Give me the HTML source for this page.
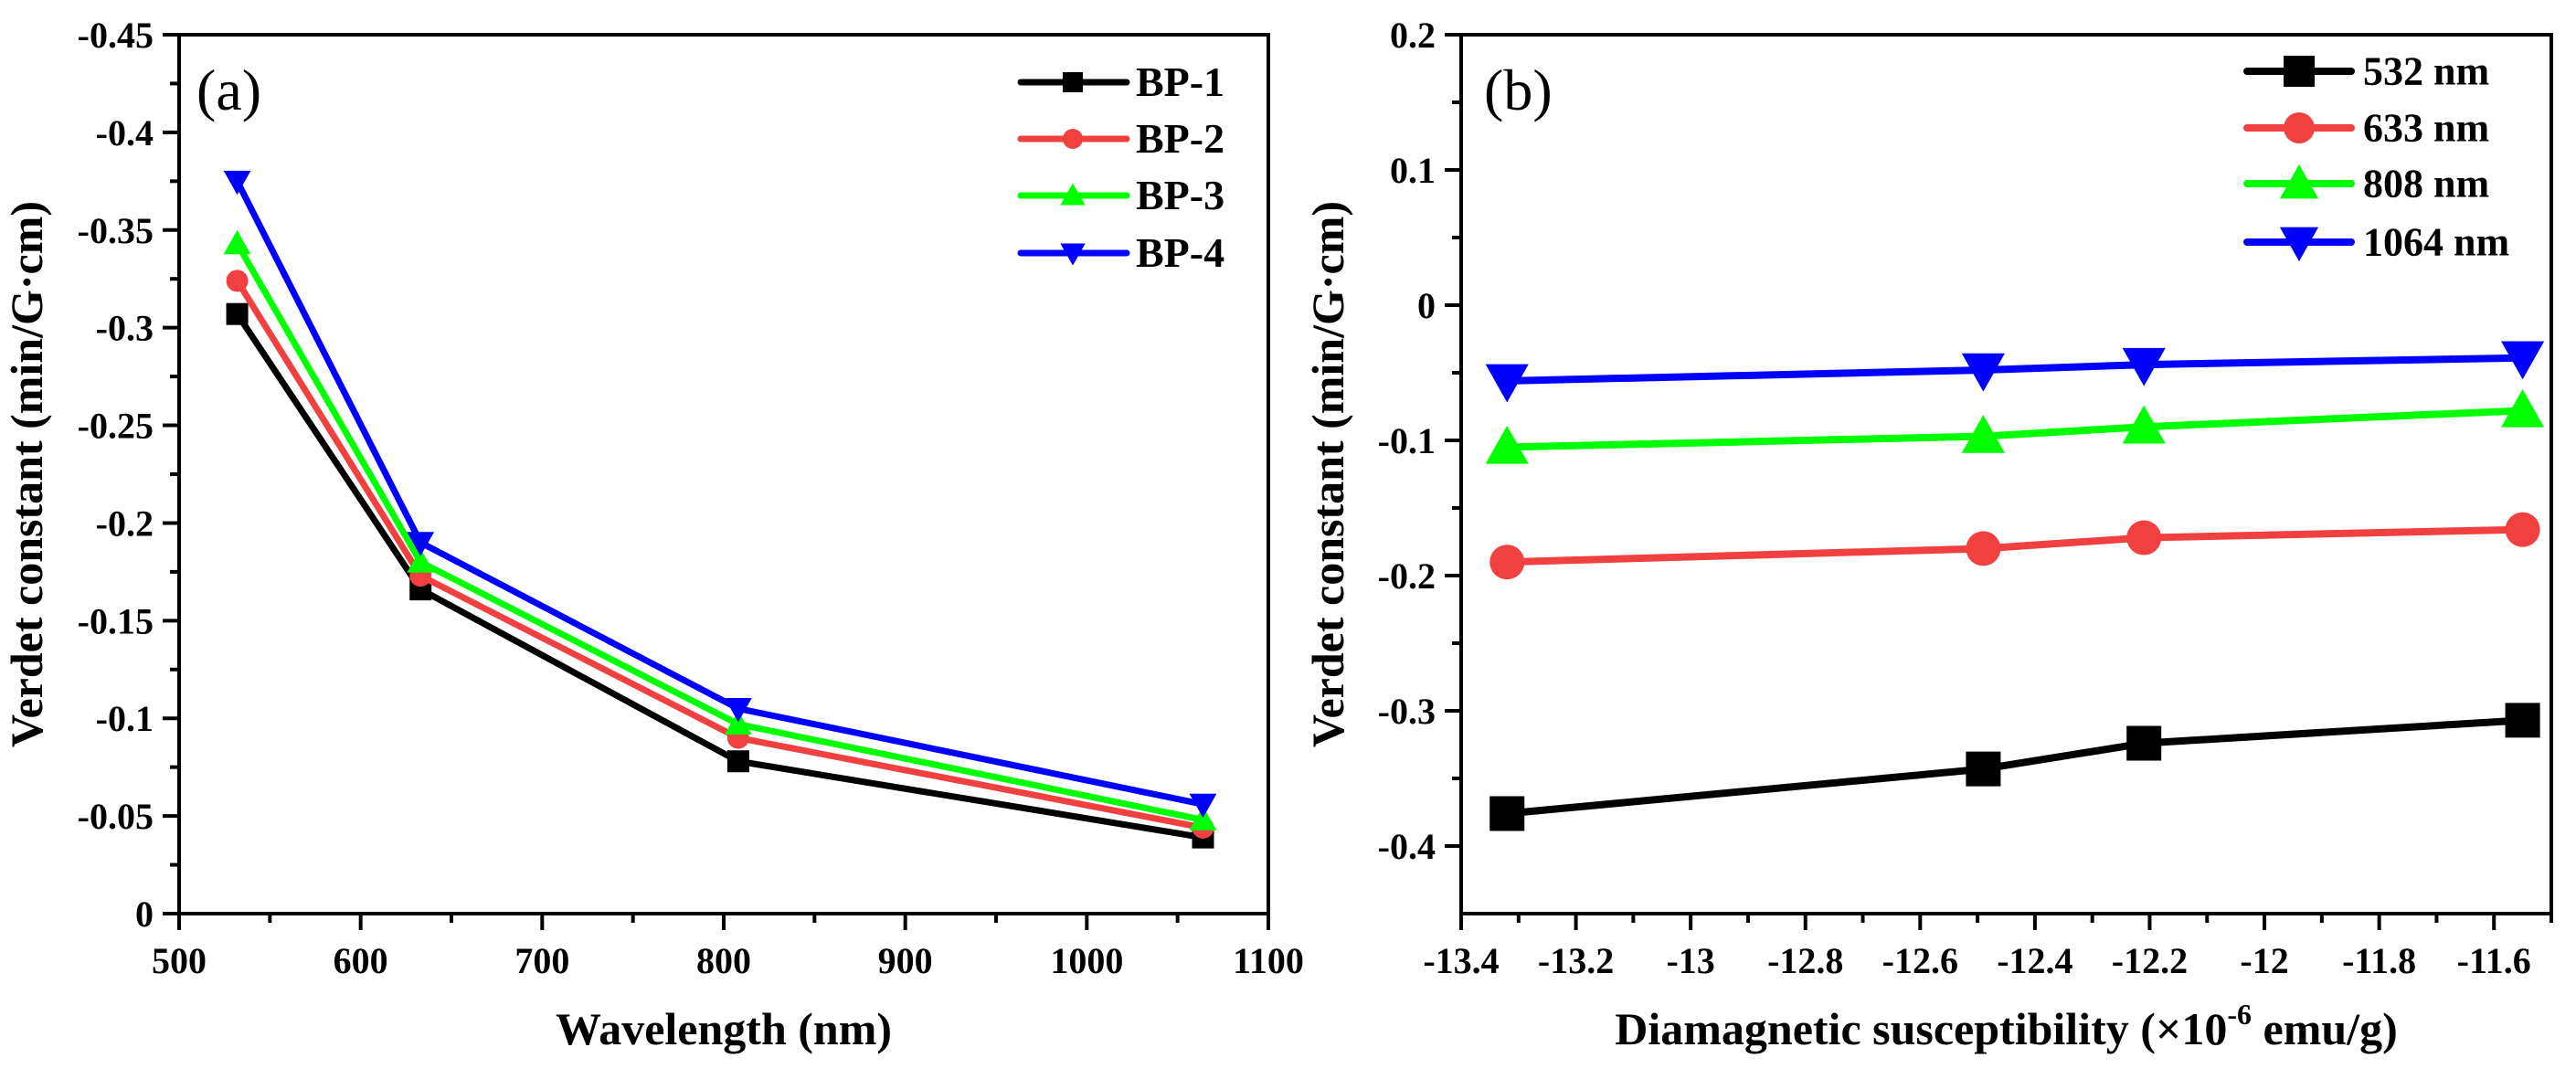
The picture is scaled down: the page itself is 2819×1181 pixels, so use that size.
<!DOCTYPE html>
<html><head><meta charset="utf-8">
<style>
html,body{margin:0;padding:0;background:#fff;}
svg{display:block;font-family:"Liberation Serif","Times New Roman","DejaVu Serif",serif;}
</style></head>
<body>
<svg id="fig" width="2819" height="1181" viewBox="0 0 2819 1181" font-family="'Liberation Serif', 'Times New Roman', serif" xmlns="http://www.w3.org/2000/svg"></svg>
<script>
// ---- Panel (a) data ----
const waveCats = [532, 633, 808, 1064];
const bp1 = [-0.307, -0.166, -0.078, -0.039];
const bp2 = [-0.324, -0.173, -0.090, -0.044];
const bp3 = [-0.343, -0.180, -0.097, -0.048];
const bp4 = [-0.375, -0.190, -0.105, -0.056];
const seriesNamesA = ["BP-1", "BP-2", "BP-3", "BP-4"];
const xTicksA = [500, 600, 700, 800, 900, 1000, 1100];
const yTicksA = [-0.45, -0.4, -0.35, -0.3, -0.25, -0.2, -0.15, -0.1, -0.05, 0];
const yTickLabelsA = ["-0.45","-0.4","-0.35","-0.3","-0.25","-0.2","-0.15","-0.1","-0.05","0"];
// ---- Panel (b) data ----
const suscCats = [-13.32, -12.49, -12.21, -11.55];
const nm532 = [-0.376, -0.343, -0.324, -0.307];
const nm633 = [-0.190, -0.180, -0.172, -0.166];
const nm808 = [-0.105, -0.097, -0.090, -0.078];
const nm1064 = [-0.056, -0.048, -0.044, -0.039];
const seriesNamesB = ["532 nm", "633 nm", "808 nm", "1064 nm"];
const xTicksB = [-13.4, -13.2, -13, -12.8, -12.6, -12.4, -12.2, -12, -11.8, -11.6];
const xTickLabelsB = ["-13.4","-13.2","-13","-12.8","-12.6","-12.4","-12.2","-12","-11.8","-11.6"];
const yTicksB = [-0.4, -0.3, -0.2, -0.1, 0, 0.1, 0.2];
const yTickLabelsB = ["-0.4","-0.3","-0.2","-0.1","0","0.1","0.2"];

const colors = ["#000000", "#f04040", "#00ff00", "#0000ff"];
const shapes = ["square", "circle", "up", "down"];
const NS = "http://www.w3.org/2000/svg";
const svg = document.getElementById("fig");
const FONT = "'Liberation Serif', 'Times New Roman', serif";

function mk(tag, attrs, parent) {
  const e = document.createElementNS(NS, tag);
  for (const k in attrs) e.setAttribute(k, attrs[k]);
  if (tag === "text") e.setAttribute("font-family", FONT);
  (parent || svg).appendChild(e);
  return e;
}
function marker(g, shape, cx, cy, s, color) {
  let e;
  if (shape === "square") e = mk("rect", {x: cx - s/2, y: cy - s/2, width: s, height: s, fill: color}, g);
  else if (shape === "circle") e = mk("circle", {cx: cx, cy: cy, r: s/2, fill: color}, g);
  else if (shape === "up") e = mk("polygon", {points: `${cx},${cy - s*0.62} ${cx - s*0.62},${cy + s*0.48} ${cx + s*0.62},${cy + s*0.48}`, fill: color}, g);
  else e = mk("polygon", {points: `${cx},${cy + s*0.62} ${cx - s*0.62},${cy - s*0.48} ${cx + s*0.62},${cy - s*0.48}`, fill: color}, g);
  return e;
}

function panel(cfg) {
  const {x0, x1, y0, y1, xmin, xmax, ymin, ymax} = cfg;
  const sx = v => x0 + (v - xmin) / (xmax - xmin) * (x1 - x0);
  const sy = v => y1 - (v - ymin) / (ymax - ymin) * (y1 - y0);
  const g = mk("g", {});
  
  

  const frame = mk("rect", {x: x0, y: y0, width: x1 - x0, height: y1 - y0, fill: "none", stroke: "#000", "stroke-width": 4}, g);
  
  

  cfg.xTicks.forEach((v, i) => {
    const X = sx(v);
    const t = mk("line", {x1: X, y1: y1, x2: X, y2: y1 + 18, stroke: "#000", "stroke-width": 4}, g);
    
    
    const lb = mk("text", {x: X, y: y1 + 65, "text-anchor": "middle", "font-size": 40, "font-weight": "bold"}, g);
    lb.textContent = cfg.xLabels[i];
    
    
    const m = sx(v + cfg.xMinor);
    if (m < x1 + 1) {
      const mt = mk("line", {x1: m, y1: y1, x2: m, y2: y1 + 10, stroke: "#000", "stroke-width": 4}, g);
      
      
    }
  });
  cfg.yTicks.forEach((v, i) => {
    const Y = sy(v);
    const t = mk("line", {x1: x0 - 18, y1: Y, x2: x0, y2: Y, stroke: "#000", "stroke-width": 4}, g);
    
    
    const lb = mk("text", {x: x0 - 28, y: Y + 14, "text-anchor": "end", "font-size": 40, "font-weight": "bold"}, g);
    lb.textContent = cfg.yLabels[i];
    
    
    const m = sy(v + cfg.yMinor);
    if (m > y0 - 1 && m < y1) {
      const mt = mk("line", {x1: x0 - 10, y1: m, x2: x0, y2: m, stroke: "#000", "stroke-width": 4}, g);
      
      
    }
  });
  cfg.series.forEach((vals, si) => {
    const sg = mk("g", {}, g);
    
    
    const pts = vals.map((v, k) => sx(cfg.xs[k]) + "," + sy(v)).join(" ");
    const pl = mk("polyline", {points: pts, fill: "none", stroke: colors[si], "stroke-width": cfg.lw, "stroke-linejoin": "miter"}, sg);
    
    
    vals.forEach((v, k) => {
      const mkr = marker(sg, shapes[si], sx(cfg.xs[k]), sy(v), cfg.ms, colors[si]);
      
      
    });
  });
  const L = cfg.legend;
  const lg = mk("g", {}, g);
  
  
  cfg.names.forEach((nm, si) => {
    const Y = L.ys[si];
    const eg = mk("g", {}, lg);
    
    
    mk("line", {x1: L.l0, y1: Y, x2: L.l1, y2: Y, stroke: colors[si], "stroke-width": cfg.lw, "stroke-linecap": "round"}, eg);
    marker(eg, shapes[si], L.mx, Y, L.ms, colors[si]);
    const tx = mk("text", {x: L.tx, y: Y + L.fs * 0.33, "font-size": L.fs, "font-weight": "bold"}, eg);
    tx.textContent = nm;
  });
  const pl = mk("text", {x: cfg.labX, y: 120, "font-size": 64}, g);
  pl.textContent = cfg.label;
  
  
  const xt = mk("text", {x: (x0 + x1) / 2, y: 1143, "text-anchor": "middle", "font-size": 50, "font-weight": "bold"}, g);
  if (cfg.xSup) {
    xt.appendChild(document.createTextNode("Diamagnetic susceptibility (×10"));
    const ts = mk("tspan", {dy: -22, "font-size": 32}, xt);
    ts.textContent = "-6";
    const ts2 = mk("tspan", {dy: 22}, xt);
    ts2.textContent = " emu/g)";
  } else xt.textContent = cfg.xTitle;
  
  
  const cy = (y0 + y1) / 2;
  const yt = mk("text", {x: cfg.yTitleX, y: cy, "text-anchor": "middle", "font-size": 50, "font-weight": "bold", transform: `rotate(-90 ${cfg.yTitleX} ${cy})`}, g);
  yt.textContent = "Verdet constant (min/G·cm)";
  
  
}

panel({
  name: "panel-a", x0: 196, x1: 1388, y0: 38, y1: 1000,
  xmin: 500, xmax: 1100, ymin: 0, ymax: -0.45,
  xTicks: xTicksA, xLabels: xTicksA.map(String), xMinor: 50,
  yTicks: yTicksA, yLabels: yTickLabelsA, yMinor: 0.025,
  xs: waveCats, series: [bp1, bp2, bp3, bp4], names: seriesNamesA,
  lw: 7, ms: 24,
  legend: {ys: [90, 152, 214, 277], l0: 1117, l1: 1233, mx: 1174, ms: 22, tx: 1243, fs: 46},
  label: "(a)", labX: 215, xTitle: "Wavelength (nm)", yTitleX: 46
});
panel({
  name: "panel-b", x0: 1599, x1: 2792, y0: 38, y1: 1000,
  xmin: -13.4, xmax: -11.5, ymin: -0.45, ymax: 0.2,
  xTicks: xTicksB, xLabels: xTickLabelsB, xMinor: 0.1,
  yTicks: yTicksB, yLabels: yTickLabelsB, yMinor: 0.05,
  xs: suscCats, series: [nm532, nm633, nm808, nm1064], names: seriesNamesB,
  lw: 8, ms: 38,
  legend: {ys: [78, 140, 201, 265], l0: 2459, l1: 2573, mx: 2516, ms: 34, tx: 2586, fs: 44},
  label: "(b)", labX: 1624, xSup: true, yTitleX: 1470
});
</script>
</body></html>
